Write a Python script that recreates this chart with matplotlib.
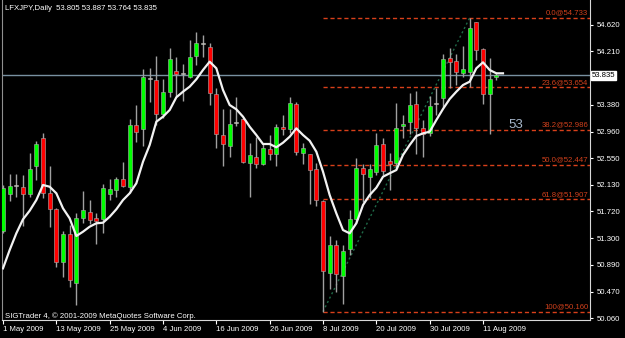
import numpy as np
import matplotlib
matplotlib.use("Agg")
import matplotlib.pyplot as plt

# LFXJPY daily candles, 1 May 2009 .. 13 Aug 2009
opens = [51.418, 51.990, 52.119, 52.094, 51.990, 52.430, 52.866, 52.010, 51.752, 50.936,
         51.362, 50.600, 51.611, 51.714, 51.621, 51.596, 51.990, 52.052, 52.218, 52.103,
         53.059, 53.006, 53.784, 53.764, 53.235, 53.582, 53.909, 53.853, 53.806, 54.138,
         54.324, 54.273, 53.546, 52.908, 52.737, 53.099, 53.152, 52.467, 52.570, 52.457,
         52.685, 52.608, 53.037, 52.997, 53.386, 52.623, 52.608, 52.374, 51.881, 50.755,
         51.196, 50.718, 51.129, 51.596, 52.399, 52.259, 52.337, 52.768, 52.503, 52.467,
         53.048, 53.115, 53.386, 53.022, 52.944, 53.386, 53.479, 54.102, 54.060, 53.878,
         53.893, 54.662, 54.242, 53.541, 53.805]
highs = [52.130, 52.301, 52.301, 52.285, 52.623, 52.819, 52.944, 52.425, 51.772, 51.414,
         51.507, 51.689, 52.036, 51.896, 51.699, 52.141, 52.228, 52.250, 52.492, 53.152,
         53.370, 53.931, 53.946, 54.138, 53.775, 54.257, 54.117, 54.008, 54.387, 54.511,
         54.464, 54.335, 53.635, 53.308, 53.308, 53.504, 53.165, 52.788, 52.881, 52.788,
         52.908, 53.079, 53.219, 53.504, 53.426, 52.788, 52.615, 52.467, 51.890, 51.336,
         51.274, 51.196, 51.741, 52.545, 52.452, 52.452, 52.934, 52.857, 52.623, 53.401,
         53.219, 53.557, 53.593, 53.141, 53.520, 53.635, 54.164, 54.257, 54.164, 54.298,
         54.733, 54.670, 54.267, 54.102, 53.887]
lows = [51.383, 51.885, 51.948, 51.492, 51.948, 52.208, 51.923, 51.471, 50.858, 50.703,
        50.547, 50.262, 51.534, 51.523, 51.211, 51.378, 51.896, 51.948, 52.103, 52.001,
        52.799, 52.737, 53.426, 53.064, 53.168, 53.504, 53.515, 53.437, 53.790, 53.997,
        54.127, 53.375, 52.701, 52.430, 52.570, 53.048, 52.470, 51.938, 52.390, 52.441,
        52.519, 52.430, 52.908, 52.934, 52.597, 52.457, 51.834, 51.803, 50.160, 50.506,
        50.469, 50.273, 51.040, 51.534, 51.870, 51.923, 52.285, 52.285, 52.052, 52.390,
        52.857, 52.919, 52.608, 52.570, 52.897, 53.219, 53.348, 53.635, 53.686, 53.815,
        53.660, 54.075, 53.395, 52.919, 53.764]
closes = [52.078, 52.114, 52.119, 51.990, 52.374, 52.763, 52.001, 51.752, 50.936, 51.362,
          50.651, 51.611, 51.741, 51.585, 51.569, 52.078, 52.063, 52.223, 52.119, 53.059,
          52.959, 53.806, 53.784, 53.235, 53.577, 54.086, 53.857, 53.853, 54.117, 54.345,
          54.324, 53.557, 52.924, 52.768, 53.079, 53.099, 52.483, 52.592, 52.452, 52.701,
          52.608, 53.028, 52.997, 53.401, 52.643, 52.710, 52.363, 51.896, 50.796, 51.196,
          50.740, 51.107, 51.596, 52.399, 52.296, 52.374, 52.752, 52.352, 52.457, 53.012,
          53.079, 53.375, 53.022, 52.919, 53.364, 53.386, 54.086, 54.039, 53.893, 53.931,
          54.578, 54.231, 53.541, 53.775, 53.835]
# moving average line as drawn on the chart
ma = [50.833, 51.118, 51.378, 51.596, 51.730, 51.896, 52.130, 52.103, 52.001, 51.767,
      51.611, 51.336, 51.403, 51.481, 51.534, 51.543, 51.636, 51.752, 51.896, 52.001,
      52.156, 52.492, 52.752, 53.115, 53.193, 53.297, 53.495, 53.582, 53.660, 53.775,
      53.920, 54.049, 53.946, 53.608, 53.375, 53.308, 53.193, 53.037, 52.908, 52.768,
      52.768, 52.717, 52.788, 52.881, 53.012, 52.908, 52.819, 52.648, 52.337, 51.974,
      51.689, 51.429, 51.378, 51.534, 51.818, 51.974, 52.088, 52.259, 52.312, 52.363,
      52.597, 52.752, 52.892, 52.934, 52.959, 53.141, 53.313, 53.468, 53.582, 53.686,
      53.738, 53.946, 54.039, 53.920, 53.868, 53.868]

date_labels = ["1 May 2009", "13 May 2009", "25 May 2009", "4 Jun 2009", "16 Jun 2009",
               "26 Jun 2009", "8 Jul 2009", "20 Jul 2009", "30 Jul 2009", "11 Aug 2009"]
price_ticks = [54.620, 54.210, 53.380, 52.960, 52.550, 52.130, 51.720, 51.300, 50.890, 50.470, 50.060]

fib_levels = [54.733, 53.654, 52.986, 52.447, 51.907, 50.160]
fib_labels = ["0.0@54.733", "23.6@53.654", "38.2@52.986", "50.0@52.447", "61.8@51.907", "100@50.160"]
fib_start, fib_end = 48, 70   # swing low bar -> swing high bar

last_price = 53.835

font = ["Liberation Sans", "DejaVu Sans"]
plt.rcParams["font.family"] = font

fig = plt.figure(figsize=(6.25, 3.38), dpi=100, facecolor="black")
ax = fig.add_axes([2 / 625, 18 / 338, 588 / 625, 320 / 338])
ax.set_facecolor("black")

o = np.array(opens); h = np.array(highs); l = np.array(lows); c = np.array(closes)
idx = np.arange(len(o))
doji = np.isclose(o, c)
colors = np.where(doji, "#e8e2cc", np.where(c > o, "#00ff00", "#ff0000"))

ax.vlines(idx, l, h, color="#a0a0a0", lw=1, zorder=2)
ax.bar(idx, np.maximum(np.abs(c - o), 0.014), bottom=np.minimum(o, c), width=0.62,
       color=colors, edgecolor="#b0b0b0", lw=0.4, zorder=3)

ax.plot(np.arange(len(ma)), ma, color="#f2f2f2", lw=1.6, zorder=4)

# fibonacci retracement
xmax = 88.05
for lv, lab in zip(fib_levels, fib_labels):
    ax.plot([fib_start, xmax], [lv, lv], color="#d8401a", lw=1, ls=(0, (3, 2)), zorder=1)
    ax.text(87.8, lv + 0.02, lab, color="#d0401c", fontsize=5.6, ha="right", va="bottom")
ax.plot([fib_start, fib_end], [fib_levels[-1], fib_levels[0]], color="#1f6a48",
        lw=1, ls=(0, (1.5, 2)), zorder=1)

# current price line
ax.axhline(last_price, color="#7890a0", lw=1, zorder=1)
ax.text(1.003, last_price, "53.835", transform=ax.get_yaxis_transform(), fontsize=5.6,
        color="black", va="center", ha="left",
        bbox=dict(boxstyle="square,pad=0.15", fc="white", ec="white"))

fig.text(516 / 625, 1 - 125 / 338, "53", color="#a8b8cc", fontsize=9.5, ha="center", va="center")

ax.set_xlim(-0.15, xmax)
ax.set_ylim(50.029, 55.009)

ax.yaxis.tick_right()
ax.set_yticks(price_ticks, [f"{v:.3f}" for v in price_ticks])
ax.tick_params(axis="y", colors="white", labelsize=5.6, length=2.5, width=0.8, pad=2.5)
ax.set_xticks(np.arange(0, 73, 8), date_labels)
ax.tick_params(axis="x", colors="white", labelsize=5.6, length=3, width=0.8, pad=1.5)
for t in ax.get_xticklabels():
    t.set_horizontalalignment("left")

ax.spines["top"].set_visible(False)
ax.spines["left"].set_color("#909090")
ax.spines["right"].set_color("#d8d8d8")
ax.spines["bottom"].set_color("#d8d8d8")

fig.text(5 / 625, 1 - 8.5 / 338, "LFXJPY,Daily  53.805 53.887 53.764 53.835",
         color="white", fontsize=5.6, va="center", ha="left")
fig.text(5 / 625, 1 - 316.5 / 338, "SIGTrader 4, \u00a9 2001-2009 MetaQuotes Software Corp.",
         color="white", fontsize=5.6, va="center", ha="left")

fig.savefig("out.png", dpi=100, facecolor="black")
